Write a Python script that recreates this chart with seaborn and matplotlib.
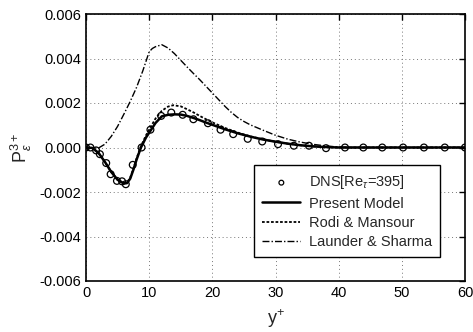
import numpy as np
import pandas as pd
import matplotlib
matplotlib.use("Agg")
import matplotlib.pyplot as plt
import seaborn as sns
from matplotlib.ticker import FormatStrFormatter, FixedLocator

# ---- data (values in units of 1e-3) ----
dns_x = [0, 0.7, 1.6, 2.2, 3.2, 3.9, 4.9, 5.7, 6.3, 7.4, 8.8, 10.2, 11.9, 13.5, 15.3, 17.0,
         19.3, 21.3, 23.3, 25.6, 27.9, 30.4, 32.9, 35.3, 38.0, 41.0, 43.9, 46.9, 50.2, 53.5, 56.8, 60]
dns_y = [0, 0, -0.13, -0.3, -0.7, -1.2, -1.5, -1.52, -1.65, -0.78, 0, 0.8, 1.42, 1.57, 1.47, 1.27,
         1.09, 0.8, 0.6, 0.39, 0.27, 0.15, 0.08, 0.08, -0.03, 0, 0, 0, 0, 0, 0, 0]

pm_x = [0, 1, 2, 3, 4, 5, 6, 6.5, 7, 7.5, 8, 8.7, 9.5, 10.2, 11, 12, 13, 14, 15, 16, 17, 18, 19,
        20, 22, 24, 26, 28, 30, 32, 34, 36, 38, 40, 45, 50, 55, 60]
pm_y = [0, -0.02, -0.25, -0.65, -1.1, -1.45, -1.62, -1.6, -1.4, -1.0, -0.55, 0, 0.45, 0.75, 1.1,
        1.4, 1.47, 1.49, 1.48, 1.42, 1.33, 1.23, 1.12, 1.02, 0.82, 0.64, 0.49, 0.36, 0.26, 0.17,
        0.1, 0.05, 0.02, 0, 0, 0, 0, 0]

rm_x = [0, 1, 2, 3, 4, 5, 6, 6.5, 7, 7.5, 8, 8.6, 9.5, 10.2, 11, 12, 13, 13.8, 15, 16, 17, 18, 19,
        20, 22, 24, 26, 28, 30, 32, 34, 36, 38, 40, 45, 50, 55, 60]
rm_y = [0, -0.02, -0.25, -0.65, -1.1, -1.45, -1.6, -1.58, -1.35, -0.95, -0.5, 0, 0.55, 0.9, 1.3,
        1.65, 1.84, 1.9, 1.85, 1.72, 1.58, 1.42, 1.27, 1.13, 0.88, 0.67, 0.5, 0.37, 0.26, 0.17,
        0.1, 0.05, 0.02, 0, 0, 0, 0, 0]

ls_x = [0, 1, 2, 3, 4, 5, 6, 7, 8, 9, 10, 10.5, 11, 12, 13, 14, 15, 16, 17, 18, 19, 20, 21, 22, 23, 24,
        25, 26, 28, 30, 32, 34, 36, 38, 40, 42, 45, 50, 55, 60]
ls_y = [0, -0.03, -0.02, 0.15, 0.5, 0.95, 1.5, 2.07, 2.7, 3.45, 4.3, 4.45, 4.53, 4.62, 4.47, 4.22,
        3.92, 3.62, 3.33, 3.05, 2.75, 2.45, 2.15, 1.85, 1.58, 1.35, 1.17, 1.02, 0.78, 0.55, 0.37,
        0.24, 0.14, 0.07, 0.02, 0, 0, 0, 0, 0]

labels = ["DNS[Re$_\\tau$=395]", "Present Model", "Rodi & Mansour", "Launder & Sharma"]
xticks = [0, 10, 20, 30, 40, 50, 60]
yticks = [-0.006, -0.004, -0.002, 0.000, 0.002, 0.004, 0.006]

sns.set_style("white")
plt.rcParams["font.family"] = ["Liberation Sans", "DejaVu Sans"]
plt.rcParams["mathtext.fontset"] = "custom"
plt.rcParams["mathtext.rm"] = "Liberation Sans"
plt.rcParams["mathtext.it"] = "Liberation Sans:italic"
plt.rcParams["axes.unicode_minus"] = False

fig = plt.figure(figsize=(4.73, 3.32), dpi=100)
ax = fig.add_axes([86 / 473, 1 - 281 / 332, 379 / 473, 267 / 332])

def s(v):
    return np.array(v) * 1e-3

sns.lineplot(x=pm_x, y=s(pm_y), ax=ax, color="black", lw=1.8, label=labels[1])
sns.lineplot(x=rm_x, y=s(rm_y), ax=ax, color="black", lw=1.3, linestyle=(0, (1.5, 1)), label=labels[2])
sns.lineplot(x=ls_x, y=s(ls_y), ax=ax, color="black", lw=1.0, linestyle=(0, (5, 1.5, 1, 1.5)), label=labels[3])
sns.scatterplot(x=dns_x, y=s(dns_y), ax=ax, marker="o", s=24, facecolor="none",
                edgecolor="black", linewidth=0.9, label=labels[0], zorder=5)

ax.set_xlim(0, 60)
ax.set_ylim(-0.006, 0.006)
ax.xaxis.set_major_locator(FixedLocator(xticks))
ax.yaxis.set_major_locator(FixedLocator(yticks))
ax.yaxis.set_major_formatter(FormatStrFormatter("%.3f"))
ax.grid(True, color="#777777", linestyle=(0, (1, 3)), linewidth=0.7)
ax.tick_params(direction="in", length=4, width=1, top=True, right=True, labelsize=10.5, colors="black")
for sp in ax.spines.values():
    sp.set_color("black")
    sp.set_linewidth(1.2)

ax.set_xlabel("y$^{+}$", fontsize=13, labelpad=5)
ax.set_ylabel("P$_{\\epsilon}^{3+}$", fontsize=13, labelpad=4)

handles, labs = ax.get_legend_handles_labels()
order = [labs.index(l) for l in labels]
leg = ax.legend([handles[i] for i in order], [labs[i] for i in order],
                loc="upper left", bbox_to_anchor=(0.425, 0.46), fontsize=10.5,
                frameon=True, fancybox=False, edgecolor="black", framealpha=1,
                handlelength=2.6, labelspacing=0.35, borderpad=0.55, handletextpad=0.6,
                markerscale=0.7)
leg.get_frame().set_linewidth(1.0)

fig.savefig("out.png", dpi=100)
